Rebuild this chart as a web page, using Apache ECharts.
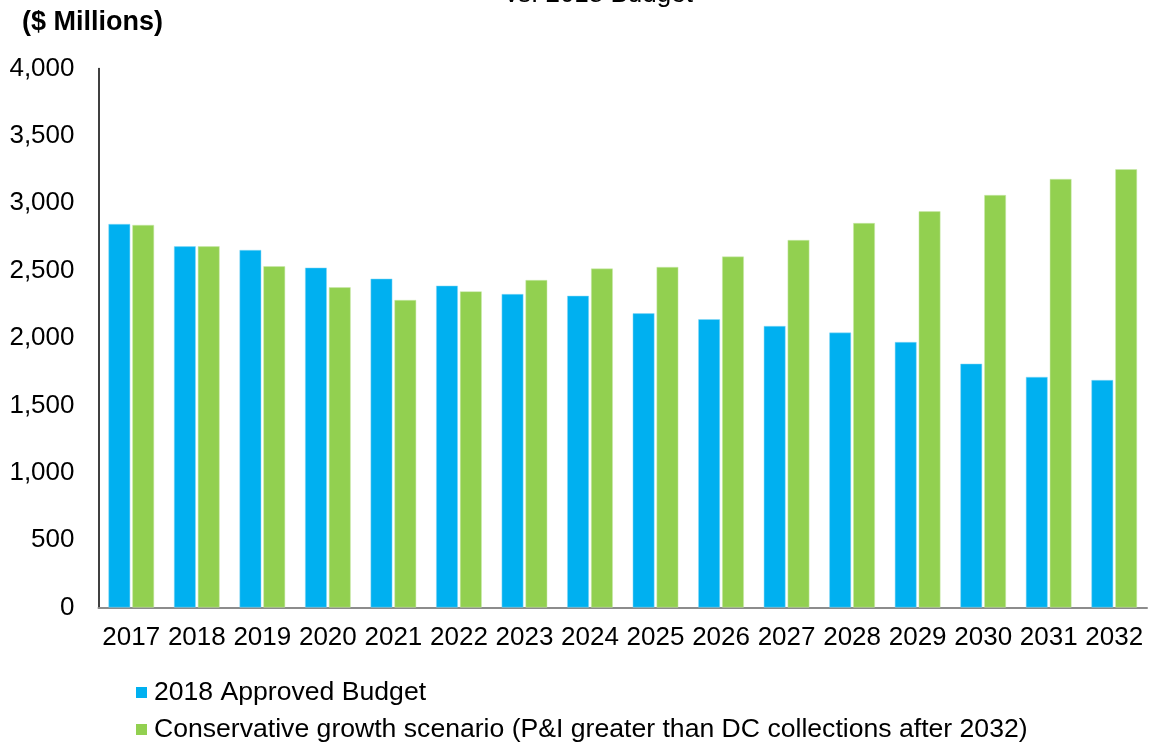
<!DOCTYPE html>
<html><head><meta charset="utf-8">
<script src="https://cdn.jsdelivr.net/npm/echarts@6/dist/echarts.min.js"></script>
<style>html,body{margin:0;padding:0;background:#fff}#c{width:1152px;height:743px}</style>
</head><body><div id="c"></div>
<script>
var categories = ['2017','2018','2019','2020','2021','2022','2023','2024','2025','2026','2027','2028','2029','2030','2031','2032'];
var approvedBudget = [2846,2680,2653,2522,2440,2388,2326,2313,2183,2139,2089,2040,1970,1809,1711,1688];
var conservativeGrowth = [2839,2680,2532,2376,2282,2346,2430,2515,2527,2604,2727,2853,2940,3061,3180,3252];
var seriesNames = ['2018 Approved Budget','Conservative growth scenario (P&I greater than DC collections after 2032)'];
var yTicks = {min:0, max:4000, interval:500};

var chart = echarts.init(document.getElementById('c'));
var font = 'Liberation Sans, Arial, sans-serif';
var legendText = {fontSize:26.6, color:'#000', fontFamily:font, padding:[0,0,0,2]};
chart.setOption({
  animation:false,
  textStyle:{fontFamily:font},
  graphic:[
    {type:'text', left:22, top:9, style:{text:'($ Millions)', font:'bold 27px '+font, fill:'#000'}},
    {type:'text', left:505, top:-18, style:{text:'vs. 2018 Budget', font:'26px '+font, fill:'#000'}}
  ],
  grid:{left:98.5, right:5, top:68.5, bottom:135.5, containLabel:false},
  legend:[
    {left:131, top:674, itemWidth:11, itemHeight:11, icon:'rect', itemStyle:{borderWidth:0}, textStyle:legendText, data:[seriesNames[0]]},
    {left:131, top:711, itemWidth:11, itemHeight:11, icon:'rect', itemStyle:{borderWidth:0}, textStyle:legendText, data:[seriesNames[1]]}
  ],
  xAxis:{
    type:'category', data:categories,
    axisLine:{show:true, lineStyle:{color:'#8c8c8c', width:2}},
    axisTick:{show:false},
    axisLabel:{fontSize:26, color:'#000', margin:17, fontFamily:font, interval:0}
  },
  yAxis:{
    type:'value', min:yTicks.min, max:yTicks.max, interval:yTicks.interval,
    axisLine:{show:true, lineStyle:{color:'#000', width:1.5}},
    axisTick:{show:false},
    splitLine:{show:false},
    axisLabel:{fontSize:26, color:'#000', margin:24, fontFamily:font,
      formatter:function(v){return v.toLocaleString('en-US');}}
  },
  series:[
    {name:seriesNames[0], type:'bar', data:approvedBudget, barWidth:21.7, barGap:'10%',
      itemStyle:{color:'#00B0F0', borderColor:'#8ad8f5', borderWidth:0.5}},
    {name:seriesNames[1], type:'bar', data:conservativeGrowth, barWidth:21.7,
      itemStyle:{color:'#92D050', borderColor:'#cbe9ad', borderWidth:0.5}}
  ]
});
</script></body></html>
